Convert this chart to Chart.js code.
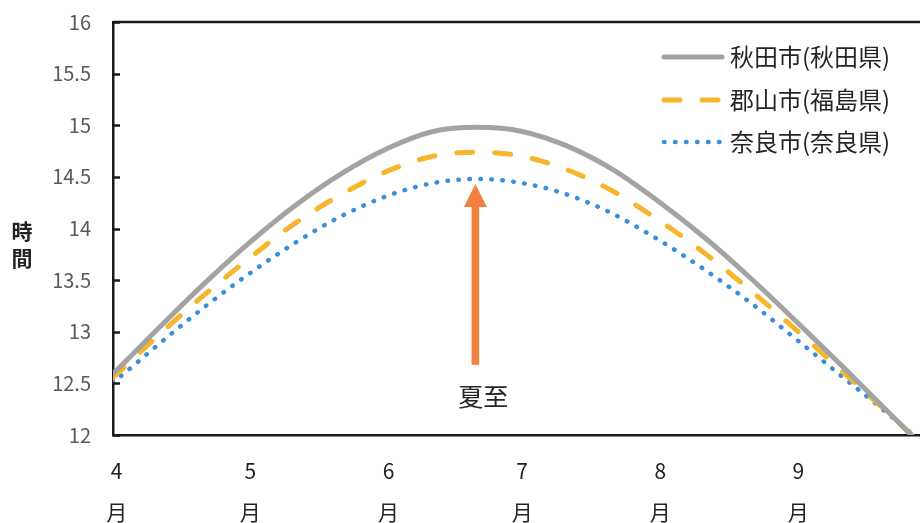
<!DOCTYPE html>
<html lang="ja">
<head>
<meta charset="utf-8">
<title>日照時間（4月〜9月）</title>
<script src="https://cdn.jsdelivr.net/npm/chart.js@4.4.1/dist/chart.umd.min.js"></script>
<style>
  html, body { margin: 0; padding: 0; background: #ffffff; }
  #wrap { width: 920px; height: 523px; overflow: hidden; }
  canvas { display: block; }
</style>
</head>
<body>
<div id="wrap"><canvas id="c" width="920" height="523"></canvas></div>
<script>
// Days counted from 1 April (day 0)
const days = [-1, 0, 10, 20, 30, 40, 50, 61, 71, 81, 91, 101, 111, 122, 132, 142, 153, 163, 173, 183];

// Length of day (hours)
const akita    = [12.59, 12.63, 13.06, 13.48, 13.87, 14.22, 14.52, 14.78, 14.94, 14.98, 14.94, 14.80, 14.58, 14.25, 13.91, 13.53, 13.08, 12.66, 12.23, 11.80];
const koriyama = [12.55, 12.59, 12.99, 13.37, 13.72, 14.05, 14.32, 14.56, 14.70, 14.74, 14.70, 14.57, 14.37, 14.07, 13.76, 13.41, 13.00, 12.61, 12.22, 11.82];
const nara     = [12.51, 12.54, 12.90, 13.25, 13.57, 13.86, 14.11, 14.32, 14.44, 14.48, 14.44, 14.33, 14.15, 13.88, 13.60, 13.29, 12.91, 12.56, 12.21, 11.85];

const seriesNames = ['秋田市(秋田県)', '郡山市(福島県)', '奈良市(奈良県)'];

// Month ticks: first day of each month, counted from 1 April
const monthDays   = [0, 30, 61, 91, 122, 153];
const monthLabels = ['4', '5', '6', '7', '8', '9'];

// Summer solstice marker
const solsticeDay = 80.5;
const solsticeLabel = '夏至';
const arrowFrom = 12.68;
const arrowTo   = 14.43;

const FONT = '"Noto Sans CJK JP", "Noto Sans", sans-serif';

function toPoints(vals) {
  return vals.map((v, i) => ({ x: days[i], y: v }));
}

const frame = {
  id: 'frame',
  afterDraw(chart) {
    const { ctx, chartArea: a, scales } = chart;
    const y = scales.y;
    ctx.save();
    // top border
    ctx.strokeStyle = '#1a1a1a';
    ctx.lineWidth = 2.5;
    ctx.beginPath();
    ctx.moveTo(a.left, a.top);
    ctx.lineTo(a.right, a.top);
    ctx.stroke();
    // inward tick marks on value axis
    y.ticks.forEach(t => {
      const py = Math.round(y.getPixelForValue(t.value)) + 0.5;
      ctx.beginPath();
      ctx.moveTo(a.left, py);
      ctx.lineTo(a.left + 7, py);
      ctx.stroke();
    });
    // axis title, stacked characters
    ctx.fillStyle = '#222';
    ctx.font = 'bold 21px ' + FONT;
    ctx.textAlign = 'center';
    ctx.textBaseline = 'middle';
    ctx.fillText('時', 22, 231);
    ctx.fillText('間', 22, 258);
    ctx.restore();
  }
};

const annot = {
  id: 'annot',
  afterDatasetsDraw(chart) {
    const { ctx, scales } = chart;
    const x = scales.x.getPixelForValue(solsticeDay);
    const yBase = scales.y.getPixelForValue(arrowFrom);
    const yTip = scales.y.getPixelForValue(arrowTo);
    const headH = 23, headW = 23, shaftW = 7.6;
    ctx.save();
    ctx.fillStyle = '#f4803f';
    ctx.fillRect(x - shaftW / 2, yTip + headH - 1, shaftW, yBase - (yTip + headH - 1));
    ctx.beginPath();
    ctx.moveTo(x, yTip);
    ctx.lineTo(x + headW / 2, yTip + headH);
    ctx.lineTo(x - headW / 2, yTip + headH);
    ctx.closePath();
    ctx.fill();
    ctx.fillStyle = '#262626';
    ctx.font = '25px ' + FONT;
    ctx.textAlign = 'center';
    ctx.textBaseline = 'middle';
    ctx.fillText(solsticeLabel, x + 8, yBase + 32);
    ctx.restore();
  }
};

const legendBox = {
  id: 'legendBox',
  afterDraw(chart) {
    const { ctx } = chart;
    const rows = [57, 100, 142];
    ctx.save();
    chart.data.datasets.forEach((ds, i) => {
      const yy = rows[i];
      ctx.strokeStyle = ds.borderColor;
      ctx.lineWidth = ds.borderWidth;
      ctx.lineCap = ds.borderCapStyle || 'butt';
      ctx.setLineDash(ds.borderDash || []);
      ctx.beginPath();
      ctx.moveTo(664, yy);
      ctx.lineTo(722, yy);
      ctx.stroke();
      ctx.setLineDash([]);
      ctx.fillStyle = '#262626';
      ctx.font = '24px ' + FONT;
      ctx.textAlign = 'left';
      ctx.textBaseline = 'middle';
      ctx.fillText(ds.label, 730, yy);
    });
    ctx.restore();
  }
};

new Chart(document.getElementById('c'), {
  type: 'line',
  data: {
    datasets: [
      {
        label: seriesNames[0],
        data: toPoints(akita),
        borderColor: '#a3a3a3',
        borderWidth: 5,
        borderCapStyle: 'round',
        borderDash: [],
      },
      {
        label: seriesNames[1],
        data: toPoints(koriyama),
        borderColor: '#f7b52c',
        borderWidth: 5,
        borderCapStyle: 'round',
        borderDash: [16, 22],
      },
      {
        label: seriesNames[2],
        data: toPoints(nara),
        borderColor: '#3b8fd8',
        borderWidth: 4.5,
        borderCapStyle: 'round',
        borderDash: [0.5, 10.5],
      }
    ]
  },
  options: {
    responsive: false,
    animation: false,
    layout: { padding: { top: 22, left: 0, right: 0, bottom: 0 } },
    elements: {
      point: { radius: 0, hoverRadius: 0 },
      line: { cubicInterpolationMode: 'monotone', fill: false }
    },
    datasets: { line: { clip: 0 } },
    plugins: {
      legend: { display: false },
      tooltip: { enabled: false }
    },
    scales: {
      x: {
        type: 'linear',
        min: -0.83,
        max: 180.3,
        afterFit(s) { s.height = 88; s.paddingLeft = 0; s.paddingRight = 0; },
        afterBuildTicks(s) { s.ticks = monthDays.map(v => ({ value: v })); },
        grid: { display: false, drawTicks: false },
        border: { display: true, color: '#1a1a1a', width: 2.5 },
        ticks: {
          autoSkip: false,
          maxRotation: 0,
          padding: 16,
          color: '#222',
          font: { family: FONT, size: 21, lineHeight: 1.95 },
          callback(v) {
            const i = monthDays.indexOf(v);
            return i < 0 ? '' : [monthLabels[i], '月'];
          }
        }
      },
      y: {
        min: 12,
        max: 16,
        afterFit(s) { s.width = 113; s.paddingTop = 0; s.paddingBottom = 0; },
        grid: { display: false, drawTicks: false },
        border: { display: true, color: '#1a1a1a', width: 2.5 },
        ticks: {
          stepSize: 0.5,
          padding: 22,
          color: '#595959',
          font: { family: FONT, size: 20 },
          callback(v) { return String(v); }
        }
      }
    }
  },
  plugins: [frame, annot, legendBox]
});
</script>
</body>
</html>
